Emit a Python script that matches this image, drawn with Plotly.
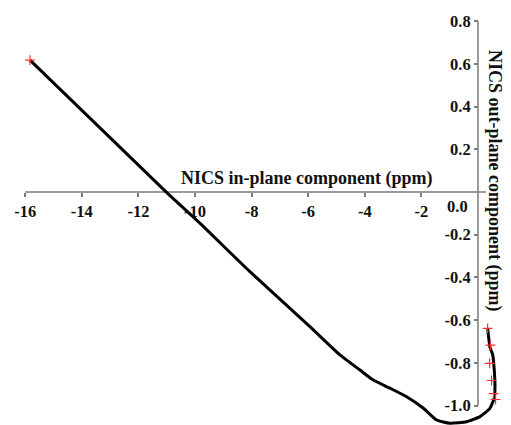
import plotly.graph_objects as go

# Curve (black smooth line)
curve_x = [-15.83, -10.95, -9.82, -8.06, -5.94, -4.88, -4.17, -3.70, -3.11, -2.52, -1.93, -1.46,
           -0.99, -0.40, 0.07, 0.42, 0.57, 0.60, 0.57, 0.52, 0.42, 0.34]
curve_y = [0.618, -0.009, -0.147, -0.373, -0.631, -0.763, -0.834, -0.881, -0.919, -0.959, -1.013, -1.068,
           -1.083, -1.076, -1.052, -1.013, -0.966, -0.919, -0.826, -0.763, -0.725, -0.638]

# Red "+" data points
mark_x = [-15.83, 0.34, 0.44, 0.41, 0.48, 0.55, 0.62]
mark_y = [0.618, -0.639, -0.717, -0.803, -0.883, -0.944, -0.972]

x_ticks = [-16, -14, -12, -10, -8, -6, -4, -2]
y_ticks = [0.8, 0.6, 0.4, 0.2, -0.2, -0.4, -0.6, -0.8, -1.0]

OFF = 8  # page body margin
W, H = 511 - OFF, 425 - OFF
X0PX, XSCALE = 478.0 - OFF, 28.3
Y0PX, YSCALE = 192.0 - OFF, 213.5
x_range = [-X0PX / XSCALE, (W - X0PX) / XSCALE]
y_range = [(Y0PX - H) / YSCALE, Y0PX / YSCALE]

FONT = "Liberation Serif"
tickfont = dict(family=FONT, size=16.5, color="#111111", weight="bold")
titlefont = dict(family=FONT, size=18, color="#111111", weight="bold")
AXC = "#7a7a7a"


def px(x):
    return (x - OFF) / W


def py(y):
    return 1 - (y - OFF) / H


fig = go.Figure()
fig.add_trace(go.Scatter(x=curve_x, y=curve_y, mode="lines",
                         line=dict(color="black", width=3, shape="spline", smoothing=0.5),
                         hoverinfo="skip", showlegend=False))
fig.add_trace(go.Scatter(x=mark_x, y=mark_y, mode="markers",
                         marker=dict(symbol="cross-thin", size=7, line=dict(color="#ff3030", width=1.2)),
                         showlegend=False))

# axis lines as shapes (limited extent)
fig.add_shape(type="line", xref="x", yref="y", x0=x_ticks[0], x1=0.28, y0=0, y1=0,
              line=dict(color=AXC, width=1.5), layer="below")
fig.add_shape(type="line", xref="x", yref="y", x0=0, x1=0, y0=y_ticks[-1], y1=y_ticks[0],
              line=dict(color=AXC, width=1.5), layer="below")

fig.update_layout(
    width=W, height=H, autosize=False,
    margin=dict(l=0, r=0, t=0, b=0, pad=0),
    paper_bgcolor="white", plot_bgcolor="white",
    xaxis=dict(range=x_range, anchor="free", position=(H - Y0PX) / H,
               showgrid=False, zeroline=False, showline=False,
               tickvals=x_ticks, ticktext=[str(v) for v in x_ticks],
               ticks="outside", ticklen=4, tickwidth=1.5, tickcolor=AXC,
               tickfont=tickfont, automargin=False),
    yaxis=dict(range=y_range, anchor="free", position=X0PX / W, side="left",
               showgrid=False, zeroline=False, showline=False,
               tickvals=y_ticks, ticktext=[f"{v:.1f}" for v in y_ticks],
               ticks="outside", ticklen=4, tickwidth=1.5, tickcolor=AXC,
               tickfont=tickfont, automargin=False),
    annotations=[
        dict(text="NICS in-plane component (ppm)", xref="paper", yref="paper",
             x=px(307), y=py(178), xanchor="center", yanchor="middle", showarrow=False,
             font=titlefont),
        dict(text="NICS out-plane component (ppm)", xref="paper", yref="paper",
             x=px(495), y=py(181), xanchor="center", yanchor="middle", showarrow=False,
             textangle=90, font=titlefont),
        dict(text="0.0", xref="paper", yref="paper",
             x=px(470), y=py(207), xanchor="right", yanchor="middle", showarrow=False,
             font=tickfont),
    ],
)

fig.write_html("out.html")
